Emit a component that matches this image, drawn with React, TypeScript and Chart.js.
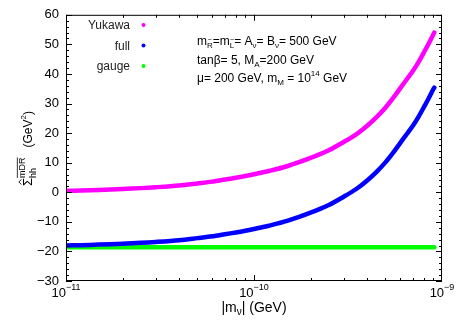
import React, { useEffect, useRef } from "react";
import { Chart, registerables } from "chart.js";

Chart.register(...registerables);

// ---- data ----
const mNu = [
  1e-11, 1.2e-11, 1.5e-11, 2e-11, 2.5e-11, 3e-11, 4e-11, 5e-11, 6e-11, 7e-11, 8e-11, 9e-11,
  1e-10, 1.2e-10, 1.5e-10, 2e-10, 2.5e-10, 3e-10, 3.5e-10, 4e-10, 4.5e-10, 5e-10, 5.5e-10,
  6e-10, 6.5e-10, 7e-10, 7.5e-10, 8e-10, 8.5e-10, 9e-10, 9.1e-10,
];
const yukawa = [
  0.5, 0.6, 0.8, 1.1, 1.4, 1.7, 2.3, 3.0, 3.6, 4.3, 4.9, 5.5,
  6.1, 7.2, 8.8, 11.6, 14.2, 17.0, 19.6, 22.5, 25.5, 28.6, 31.9,
  35.2, 38.2, 41.0, 44.0, 47.2, 50.3, 53.4, 54.0,
];
const full = [
  -18.0, -17.9, -17.7, -17.4, -17.1, -16.8, -16.2, -15.5, -14.9, -14.2, -13.6, -13.0,
  -12.4, -11.3, -9.7, -6.9, -4.3, -1.5, 1.1, 4.0, 7.0, 10.1, 13.4,
  16.7, 19.7, 22.5, 25.5, 28.7, 31.8, 34.9, 35.4,
];
const gauge = [
  -18.6, -18.6, -18.6, -18.6, -18.6, -18.6, -18.6, -18.6, -18.6, -18.6, -18.6, -18.6,
  -18.6, -18.6, -18.6, -18.6, -18.6, -18.6, -18.6, -18.6, -18.6, -18.6, -18.6,
  -18.6, -18.6, -18.6, -18.6, -18.6, -18.6, -18.6, -18.6,
];
const seriesNames = ["Yukawa", "full", "gauge"];
const seriesColors = ["#ff00ff", "#0000ff", "#00ff00"];
const yTicks = [60, 50, 40, 30, 20, 10, 0, -10, -20, -30];
const xDecades = [-11, -10, -9];

const FONT = '"Liberation Sans", Arial, Helvetica, sans-serif';

type Part = { t: string; size: number; dy?: number; stack?: boolean; tilde?: boolean; over?: boolean; hat?: boolean };

function partsWidth(ctx: CanvasRenderingContext2D, parts: Part[]) {
  let x = 0, ps = 0, pe = 0;
  for (const p of parts) {
    ctx.font = `${p.size}px ${FONT}`;
    const w = ctx.measureText(p.t).width;
    if (p.stack) x = ps;
    const s = x;
    x = Math.max(p.stack ? pe : 0, x + w);
    ps = s; pe = x;
  }
  return x;
}

function drawParts(ctx: CanvasRenderingContext2D, x0: number, y: number, parts: Part[], align: "left" | "center" | "right" = "left") {
  const total = partsWidth(ctx, parts);
  let x = align === "left" ? x0 : align === "center" ? x0 - total / 2 : x0 - total;
  let ps = x, pe = x;
  ctx.textAlign = "left";
  ctx.textBaseline = "alphabetic";
  for (const p of parts) {
    ctx.font = `${p.size}px ${FONT}`;
    const w = ctx.measureText(p.t).width;
    if (p.stack) x = ps;
    const by = y + (p.dy || 0);
    ctx.fillText(p.t, x, by);
    if (p.tilde) {
      ctx.font = `${Math.round(p.size * 0.9)}px ${FONT}`;
      const tw = ctx.measureText("~").width;
      ctx.fillText("~", x + w / 2 - tw / 2, by - p.size * 0.72);
    }
    if (p.over) {
      ctx.save();
      ctx.lineWidth = 0.8;
      ctx.beginPath();
      ctx.moveTo(x, by - p.size * 0.85);
      ctx.lineTo(x + w, by - p.size * 0.85);
      ctx.stroke();
      ctx.restore();
    }
    if (p.hat) {
      ctx.save();
      ctx.lineWidth = 0.9;
      ctx.beginPath();
      const cx = x + w / 2;
      const hy = by - p.size * 0.82;
      ctx.moveTo(cx - 2.5, hy);
      ctx.lineTo(cx, hy - 2.5);
      ctx.lineTo(cx + 2.5, hy);
      ctx.stroke();
      ctx.restore();
    }
    const s = x;
    x = Math.max(p.stack ? pe : x, x + w);
    ps = s; pe = x;
  }
}

const decorPlugin = {
  id: "decor",
  afterDraw(chart: any) {
    const ctx: CanvasRenderingContext2D = chart.ctx;
    const { left, right, top, bottom } = chart.chartArea;
    const xs = chart.scales.x;
    const ys = chart.scales.y;
    ctx.save();
    ctx.strokeStyle = "#000";
    ctx.fillStyle = "#000";
    ctx.lineWidth = 1;
    // frame
    ctx.strokeRect(left + 0.5, top + 0.5, right - left - 1, bottom - top - 1);
    // y ticks
    ctx.beginPath();
    for (let v = -30; v <= 60; v += 2) {
      const py = Math.round(ys.getPixelForValue(v)) + 0.5;
      const len = v % 10 === 0 ? 6 : 3;
      ctx.moveTo(left, py); ctx.lineTo(left + len, py);
      ctx.moveTo(right, py); ctx.lineTo(right - len, py);
    }
    // x ticks
    for (let d = -11; d < -9; d++) {
      for (let k = 1; k <= 9; k++) {
        const v = k * Math.pow(10, d);
        const px = Math.round(xs.getPixelForValue(v)) + 0.5;
        const len = k === 1 ? 6 : 3;
        ctx.moveTo(px, bottom); ctx.lineTo(px, bottom - len);
        ctx.moveTo(px, top); ctx.lineTo(px, top + len);
      }
    }
    {
      const px = Math.round(xs.getPixelForValue(1e-9)) - 0.5;
      ctx.moveTo(px, bottom); ctx.lineTo(px, bottom - 6);
      ctx.moveTo(px, top); ctx.lineTo(px, top + 6);
    }
    ctx.stroke();

    // x tick labels
    for (const d of xDecades) {
      const px = xs.getPixelForValue(Math.pow(10, d));
      drawParts(ctx, px, 297, [
        { t: "10", size: 13 },
        { t: "\u2212" + String(-d), size: 9, dy: -7 },
      ], "center");
    }

    // x title
    drawParts(ctx, (left + right) / 2, 312, [
      { t: "|m", size: 14 },
      { t: "\u03bd", size: 10, dy: 3 },
      { t: "| (GeV)", size: 14 },
    ], "center");

    // y title (rotated)
    ctx.save();
    ctx.translate(32, 186);
    ctx.rotate(-Math.PI / 2);
    drawParts(ctx, 0, 0, [
      { t: "\u03a3", size: 13, hat: true },
      { t: "mDR", size: 9, dy: -7, over: true },
      { t: "hh", size: 9, dy: 4, stack: true },
      { t: "   (GeV", size: 12 },
      { t: "2", size: 8, dy: -6 },
      { t: ")", size: 12 },
    ], "left");
    ctx.restore();

    // legend
    const legY = [29, 49.5, 70];
    seriesNames.forEach((n, i) => {
      ctx.fillStyle = "#222";
      ctx.font = `12px ${FONT}`;
      ctx.textAlign = "right";
      ctx.textBaseline = "alphabetic";
      ctx.fillText(n, 130, legY[i]);
      ctx.fillStyle = seriesColors[i];
      ctx.beginPath();
      ctx.arc(143.5, legY[i] - 4, 2, 0, Math.PI * 2);
      ctx.fill();
    });

    // annotation
    ctx.fillStyle = "#000";
    drawParts(ctx, 197, 45, [
      { t: "m", size: 12 },
      { t: "R", size: 8, dy: 3, tilde: true },
      { t: "=m", size: 12 },
      { t: "L", size: 8, dy: 3, tilde: true },
      { t: "= A", size: 12 },
      { t: "\u03bd", size: 8, dy: 3 },
      { t: "= B", size: 12 },
      { t: "\u03bd", size: 8, dy: 3 },
      { t: "= 500 GeV", size: 12 },
    ]);
    drawParts(ctx, 197, 63.5, [
      { t: "tan\u03b2= 5, M", size: 12 },
      { t: "A", size: 8, dy: 3 },
      { t: "=200 GeV", size: 12 },
    ]);
    drawParts(ctx, 197, 82, [
      { t: "\u03bc= 200 GeV, m", size: 12 },
      { t: "M", size: 8, dy: 3 },
      { t: " = 10", size: 12 },
      { t: "14", size: 8, dy: -6 },
      { t: " GeV", size: 12 },
    ]);
    ctx.restore();
  },
};

export default function App() {
  const ref = useRef<HTMLCanvasElement | null>(null);
  useEffect(() => {
    document.body.style.margin = "0";
    const canvas = ref.current!;
    const mk = (vals: number[]) => mNu.map((m, i) => ({ x: m, y: vals[i] }));
    const series = [yukawa, full, gauge];
    const chart = new Chart(canvas, {
      type: "line",
      data: {
        datasets: series.map((s, i) => ({
          label: seriesNames[i],
          data: mk(s),
          borderColor: seriesColors[i],
          backgroundColor: seriesColors[i],
          borderWidth: 4.5,
          pointRadius: 0,
          tension: 0.3,
          borderCapStyle: "round" as const,
          borderJoinStyle: "round" as const,
          fill: false,
        })),
      },
      options: {
        responsive: false,
        animation: false,
        devicePixelRatio: 1,
        layout: { padding: { left: 0, right: 25, top: 9, bottom: 0 } },
        plugins: { legend: { display: false }, tooltip: { enabled: false } },
        scales: {
          x: {
            type: "logarithmic",
            min: 1e-11,
            max: 1e-9,
            grid: { display: false, drawTicks: false },
            border: { display: false },
            ticks: { display: false },
            afterFit: (s: any) => { s.height = 46; },
          },
          y: {
            type: "linear",
            min: -30,
            max: 60,
            grid: { display: false, drawTicks: false },
            border: { display: false },
            ticks: {
              stepSize: 10,
              padding: 7,
              color: "#000",
              font: { size: 13, family: FONT },
              autoSkip: false,
              callback: (v: any) => {
                const n = Number(v);
                return yTicks.includes(n) ? (n < 0 ? "\u2212" + String(-n) : String(n)) : "";
              },
            },
            afterFit: (s: any) => { s.width = 66; },
          },
        },
      },
      plugins: [decorPlugin],
    });
    return () => chart.destroy();
  }, []);
  return (
    <div style={{ width: 467, height: 327 }}>
      <canvas ref={ref} width={467} height={327} />
    </div>
  );
}
